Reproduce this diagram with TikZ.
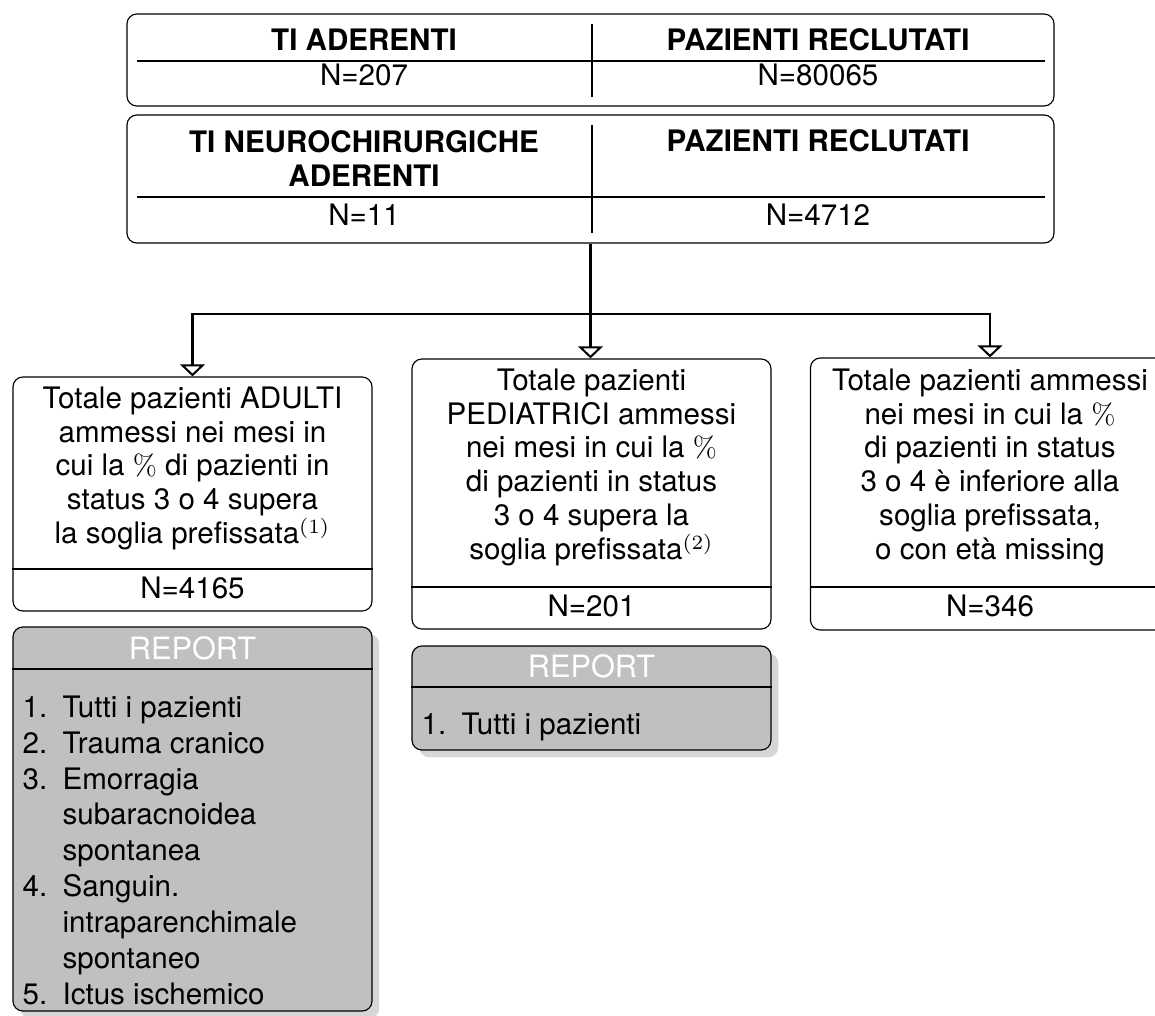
\documentclass[tikz,border=0pt]{standalone}
\usepackage[no-math]{fontspec}
\setmainfont{TeX Gyre Heros}
\usepackage{tikz}
\usetikzlibrary{arrows.meta, positioning, shadows}
\definecolor{reportgray}{RGB}{192,192,192}
\definecolor{shadowgray}{RGB}{214,214,214}
\newcommand{\pxu}{0.345pt}
\newcommand{\repitem}[1]{\makebox[13.8pt][l]{#1}}
\newcommand{\repcont}{\hspace*{13.8pt}}

\begin{document}
\begin{tikzpicture}[
    x=\pxu, y=-\pxu,
    every node/.style={font=\fontsize{10.2}{11.7}\selectfont},
    topbox/.style={rectangle, draw, rounded corners=3.4pt, minimum width=927*\pxu, inner sep=0pt},
    catbox/.style={rectangle, draw, rounded corners=3.4pt, minimum width=359*\pxu, inner sep=0pt},
    reportbox/.style={rectangle, draw, rounded corners=3.4pt, fill=reportgray, minimum width=359*\pxu, inner sep=0pt,
        drop shadow={shadow xshift=2.5pt, shadow yshift=-2.5pt, fill=shadowgray, opacity=1}},
    txt/.style={inner sep=0pt, align=center},
    head/.style={txt, font=\fontsize{10.2}{11.7}\selectfont\bfseries},
    title/.style={txt, text=white, font=\fontsize{10.6}{12}\selectfont},
    listtxt/.style={inner sep=0pt, align=left, font=\fontsize{10.2}{12.4}\selectfont},
    link/.style={line width=0.7pt},
    arrow/.style={-{Triangle[open, length=4.2pt, width=8.6pt]}, line width=0.7pt}
]
\useasboundingbox (0,0) rectangle (1155,1015);

% centri aderenti
\node[topbox, minimum height=92*\pxu] (ti) at (590.5,60) {};
\draw (137,61) -- (1045,61);
\draw (592,24) -- (592,97);
\node[head, anchor=base] (tiL) at (364,50) {TI ADERENTI};
\node[head, anchor=base] (tiR) at (818,50) {PAZIENTI RECLUTATI};
\node[txt, anchor=base] (tiLn) at (364,85) {N=207};
\node[txt, anchor=base] (tiRn) at (818,85) {N=80065};

% neurochirurgiche
\node[topbox, minimum height=128*\pxu] (neuro) at (590.5,179) {};
\draw (137,197) -- (1045,197);
\draw (592,125) -- (592,233);
\node[head, anchor=north] (neuroL) at (364,130) {TI NEUROCHIRURGICHE\\ADERENTI};
\node[head, anchor=base] (neuroR) at (818,151) {PAZIENTI RECLUTATI};
\node[txt, anchor=base] (neuroLn) at (364,225) {N=11};
\node[txt, anchor=base] (neuroRn) at (818,225) {N=4712};

% tre gruppi
\node[catbox, minimum height=234*\pxu] (adulti) at (192.5,494) {};
\draw (adulti.west |- 0,569) -- (adulti.east |- 0,569);
\node[txt, anchor=north] (adultiT) at (192.5,386) {Totale pazienti ADULTI\\ammessi nei mesi in\\cui la $\%$ di pazienti in\\status 3 o 4 supera\\la soglia prefissata$^{(1)}$};
\node[txt, anchor=base] (adultiN) at (192.5,598) {N=4165};

\node[catbox, minimum height=270*\pxu] (pediatrici) at (591.5,494) {};
\draw (pediatrici.west |- 0,587) -- (pediatrici.east |- 0,587);
\node[txt, anchor=north] (pediatriciT) at (591.5,368) {Totale pazienti\\PEDIATRICI ammessi\\nei mesi in cui la $\%$\\di pazienti in status\\3 o 4 supera la\\soglia prefissata$^{(2)}$};
\node[txt, anchor=base] (pediatriciN) at (591.5,616) {N=201};

\node[catbox, minimum height=272*\pxu] (altri) at (990,494) {};
\draw (altri.west |- 0,587) -- (altri.east |- 0,587);
\node[txt, anchor=north] (altriT) at (990,368) {Totale pazienti ammessi\\nei mesi in cui la $\%$\\di pazienti in status\\3 o 4 è inferiore alla\\soglia prefissata,\\o con età missing};
\node[txt, anchor=base] (altriN) at (990,616) {N=346};

% report
\node[reportbox, minimum height=384*\pxu] (report1) at (192.5,819) {};
\draw (report1.west |- 0,669) -- (report1.east |- 0,669);
\node[title, anchor=base] (report1T) at (192.5,659) {REPORT};
\node[listtxt, anchor=north west] (report1L) at (22,695) {%
    \repitem{1.}Tutti i pazienti\\
    \repitem{2.}Trauma cranico\\
    \repitem{3.}Emorragia\\
    \repcont subaracnoidea\\
    \repcont spontanea\\
    \repitem{4.}Sanguin.\\
    \repcont intraparenchimale\\
    \repcont spontaneo\\
    \repitem{5.}Ictus ischemico};

\node[reportbox, minimum height=104*\pxu] (report2) at (591.5,698) {};
\draw (report2.west |- 0,687) -- (report2.east |- 0,687);
\node[title, anchor=base] (report2T) at (591.5,677) {REPORT};
\node[listtxt, anchor=north west] (report2L) at (421,712) {\repitem{1.}Tutti i pazienti};

% frecce
\draw[link] (neuro.south) -- ++(0,70) coordinate (bus);
\draw[arrow] (bus) -| (adulti.north);
\draw[arrow] (bus) -- (bus |- pediatrici.north);
\draw[arrow] (bus) -| (altri.north);

\end{tikzpicture}
\end{document}
